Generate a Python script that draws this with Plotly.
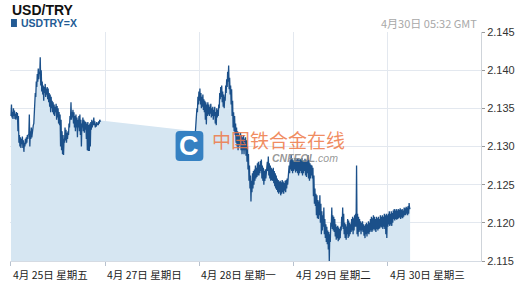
import plotly.graph_objects as go

# ---------------- data ----------------
TITLE = "USD/TRY"
SERIES_NAME = "USDTRY=X"
STAMP = "4月30日 05:32 GMT"

TICK_POS = [0, 1, 2, 3, 4]
TICK_LABELS = ["4月 25日 星期五", "4月 27日 星期日", "4月 28日 星期一",
               "4月 29日 星期二", "4月 30日 星期三"]
Y_TICKS = [2.115, 2.120, 2.125, 2.130, 2.135, 2.140, 2.145]

SEG1_START = 0.0      # trading-day position of first sample (Fri)
SEG2_START = 1.958    # trading-day position of first sample after weekend (Mon)
SAMPLE_STEP = 1 / 95  # spacing of samples in trading-day units

seg1_high = [2.1355, 2.1345, 2.1350, 2.1347, 2.1343, 2.1345, 2.1344, 2.1340, 2.1315, 2.1312,
             2.1310, 2.1313, 2.1308, 2.1305, 2.1310, 2.1312, 2.1315, 2.1316, 2.1342, 2.1320,
             2.1325, 2.1322, 2.1328, 2.1355, 2.1370, 2.1385, 2.1395, 2.1402, 2.1398, 2.1417,
             2.1400, 2.1385, 2.1380, 2.1378, 2.1382, 2.1376, 2.1378, 2.1376, 2.1370, 2.1368,
             2.1365, 2.1360, 2.1358, 2.1355, 2.1352, 2.1356, 2.1353, 2.1350, 2.1345, 2.1342,
             2.1335, 2.1320, 2.1315, 2.1310, 2.1325, 2.1322, 2.1318, 2.1320, 2.1330, 2.1340,
             2.1358, 2.1345, 2.1348, 2.1345, 2.1340, 2.1342, 2.1338, 2.1335, 2.1340, 2.1342,
             2.1335, 2.1330, 2.1338, 2.1335, 2.1333, 2.1332, 2.1330, 2.1332, 2.1328, 2.1330,
             2.1332, 2.1335, 2.1333, 2.1338, 2.1333, 2.1330, 2.1332, 2.1330, 2.1333, 2.1335,
             2.1334]
seg1_low = [2.1340, 2.1338, 2.1336, 2.1340, 2.1336, 2.1335, 2.1337, 2.1320, 2.1305, 2.1300,
            2.1298, 2.1303, 2.1298, 2.1293, 2.1300, 2.1303, 2.1305, 2.1310, 2.1315, 2.1300,
            2.1310, 2.1312, 2.1318, 2.1330, 2.1355, 2.1365, 2.1378, 2.1385, 2.1388, 2.1395,
            2.1380, 2.1372, 2.1368, 2.1360, 2.1370, 2.1365, 2.1368, 2.1362, 2.1358, 2.1352,
            2.1345, 2.1350, 2.1345, 2.1342, 2.1340, 2.1345, 2.1335, 2.1338, 2.1330, 2.1328,
            2.1300, 2.1295, 2.1290, 2.1289, 2.1305, 2.1308, 2.1305, 2.1310, 2.1315, 2.1325,
            2.1335, 2.1335, 2.1338, 2.1330, 2.1325, 2.1320, 2.1325, 2.1312, 2.1325, 2.1320,
            2.1315, 2.1300, 2.1325, 2.1320, 2.1318, 2.1322, 2.1310, 2.1295, 2.1294, 2.1294,
            2.1300, 2.1322, 2.1325, 2.1328, 2.1328, 2.1325, 2.1326, 2.1328, 2.1328, 2.1330,
            2.1333]

seg2_high = [2.1340, 2.1350, 2.1365, 2.1372, 2.1376, 2.1370, 2.1365, 2.1368, 2.1362, 2.1360,
             2.1358, 2.1355, 2.1358, 2.1355, 2.1352, 2.1356, 2.1350, 2.1352, 2.1348, 2.1352,
             2.1345, 2.1350, 2.1348, 2.1355, 2.1370, 2.1378, 2.1380, 2.1372, 2.1368, 2.1365,
             2.1380, 2.1388, 2.1398, 2.1406, 2.1390, 2.1380, 2.1375, 2.1360, 2.1345, 2.1340,
             2.1330, 2.1325, 2.1320, 2.1318, 2.1315, 2.1318, 2.1315, 2.1312, 2.1315, 2.1310,
             2.1312, 2.1308, 2.1300, 2.1290, 2.1275, 2.1262, 2.1255, 2.1265, 2.1268, 2.1270,
             2.1275, 2.1272, 2.1278, 2.1280, 2.1276, 2.1281, 2.1283, 2.1275, 2.1272, 2.1268,
             2.1270, 2.1272, 2.1280, 2.1287, 2.1278, 2.1275, 2.1272, 2.1270, 2.1272, 2.1268,
             2.1265, 2.1262, 2.1258, 2.1256, 2.1254, 2.1255, 2.1253, 2.1256, 2.1254, 2.1252,
             2.1255, 2.1256, 2.1258, 2.1265, 2.1275, 2.1282, 2.1289, 2.1284, 2.1282, 2.1280,
             2.1285, 2.1282, 2.1284, 2.1285, 2.1282, 2.1284, 2.1283, 2.1285, 2.1282, 2.1280,
             2.1284, 2.1282, 2.1280, 2.1289, 2.1282, 2.1278, 2.1276, 2.1275, 2.1272, 2.1262,
             2.1245, 2.1238, 2.1236, 2.1230, 2.1228, 2.1236, 2.1225, 2.1215, 2.1210, 2.1220,
             2.1205, 2.1198, 2.1195, 2.1190, 2.1188, 2.1185, 2.1200, 2.1220, 2.1210, 2.1208,
             2.1205, 2.1198, 2.1195, 2.1196, 2.1194, 2.1192, 2.1195, 2.1208, 2.1220, 2.1212,
             2.1200, 2.1198, 2.1195, 2.1205, 2.1203, 2.1200, 2.1198, 2.1205, 2.1208, 2.1206,
             2.1210, 2.1212, 2.1275, 2.1212, 2.1208, 2.1205, 2.1202, 2.1200, 2.1202, 2.1198,
             2.1196, 2.1198, 2.1200, 2.1198, 2.1202, 2.1200, 2.1205, 2.1208, 2.1206, 2.1210,
             2.1208, 2.1205, 2.1208, 2.1206, 2.1208, 2.1205, 2.1210, 2.1208, 2.1210, 2.1208,
             2.1212, 2.1210, 2.1212, 2.1210, 2.1212, 2.1215, 2.1212, 2.1215, 2.1213, 2.1216,
             2.1218, 2.1216, 2.1218, 2.1216, 2.1218, 2.1217, 2.1219, 2.1217, 2.1218, 2.1216,
             2.1220, 2.1219, 2.1221, 2.1220, 2.1222, 2.1226, 2.1220]
seg2_low = [2.1320, 2.1335, 2.1345, 2.1355, 2.1360, 2.1355, 2.1350, 2.1352, 2.1348, 2.1345,
            2.1335, 2.1329, 2.1340, 2.1342, 2.1340, 2.1343, 2.1338, 2.1340, 2.1335, 2.1340,
            2.1330, 2.1328, 2.1338, 2.1340, 2.1350, 2.1362, 2.1365, 2.1358, 2.1352, 2.1350,
            2.1360, 2.1370, 2.1378, 2.1385, 2.1375, 2.1368, 2.1355, 2.1340, 2.1325, 2.1320,
            2.1315, 2.1305, 2.1300, 2.1295, 2.1300, 2.1302, 2.1295, 2.1290, 2.1295, 2.1290,
            2.1295, 2.1288, 2.1280, 2.1270, 2.1255, 2.1245, 2.1228, 2.1240, 2.1245, 2.1250,
            2.1255, 2.1258, 2.1260, 2.1262, 2.1262, 2.1265, 2.1268, 2.1258, 2.1255, 2.1250,
            2.1255, 2.1258, 2.1265, 2.1268, 2.1262, 2.1258, 2.1255, 2.1256, 2.1255, 2.1252,
            2.1248, 2.1245, 2.1243, 2.1240, 2.1238, 2.1240, 2.1236, 2.1238, 2.1240, 2.1238,
            2.1242, 2.1240, 2.1245, 2.1250, 2.1260, 2.1265, 2.1270, 2.1268, 2.1265, 2.1268,
            2.1270, 2.1266, 2.1268, 2.1265, 2.1262, 2.1265, 2.1268, 2.1265, 2.1262, 2.1265,
            2.1268, 2.1262, 2.1260, 2.1265, 2.1258, 2.1255, 2.1258, 2.1262, 2.1258, 2.1235,
            2.1225, 2.1222, 2.1210, 2.1206, 2.1205, 2.1210, 2.1200, 2.1185, 2.1190, 2.1195,
            2.1185, 2.1180, 2.1175, 2.1172, 2.1165, 2.1150, 2.1175, 2.1195, 2.1192, 2.1190,
            2.1188, 2.1182, 2.1178, 2.1180, 2.1176, 2.1178, 2.1180, 2.1190, 2.1195, 2.1192,
            2.1185, 2.1180, 2.1178, 2.1185, 2.1180, 2.1182, 2.1185, 2.1188, 2.1190, 2.1185,
            2.1190, 2.1195, 2.1195, 2.1185, 2.1182, 2.1188, 2.1190, 2.1185, 2.1190, 2.1188,
            2.1183, 2.1180, 2.1185, 2.1182, 2.1186, 2.1185, 2.1188, 2.1190, 2.1188, 2.1190,
            2.1192, 2.1190, 2.1188, 2.1192, 2.1190, 2.1192, 2.1193, 2.1195, 2.1194, 2.1192,
            2.1195, 2.1192, 2.1185, 2.1180, 2.1195, 2.1198, 2.1196, 2.1198, 2.1196, 2.1200,
            2.1205, 2.1203, 2.1205, 2.1204, 2.1205, 2.1206, 2.1207, 2.1205, 2.1207, 2.1206,
            2.1208, 2.1210, 2.1210, 2.1212, 2.1210, 2.1212, 2.1218]


def interleave(start, highs, lows):
    xs, ys = [], []
    for i, (h, l) in enumerate(zip(highs, lows)):
        t = start + i * SAMPLE_STEP
        xs += [t, t + SAMPLE_STEP / 2]
        ys += [l, h]
    return xs, ys


x1, y1 = interleave(SEG1_START, seg1_high, seg1_low)
x2, y2 = interleave(SEG2_START, seg2_high, seg2_low)

# ---------------- style ----------------
LINE_COLOR = "#1b508a"
FILL_COLOR = "#d6e6f2"
GRID_COLOR = "#e3e8ef"
FONT = "Liberation Sans, Arial, Noto Sans CJK SC, sans-serif"
CJK = "Noto Sans CJK SC, Liberation Sans, sans-serif"

W, H = 525, 294
L, R, T, B = 10, 485, 32, 261  # plot area in pixels


def px(x):
    return (x - L) / (R - L)


def py(y):
    return (B - y) / (B - T)


fig = go.Figure()
fig.add_trace(go.Scatter(x=x1 + x2, y=y1 + y2, mode="lines", fill="tozeroy",
                         fillcolor=FILL_COLOR, line=dict(width=0, color=FILL_COLOR),
                         hoverinfo="skip", showlegend=False))
fig.add_trace(go.Scatter(x=x1 + [None] + x2, y=y1 + [None] + y2, mode="lines",
                         line=dict(color=LINE_COLOR, width=1.3),
                         connectgaps=False, name=SERIES_NAME, showlegend=False))

annotations = []
for p, lab in zip(TICK_POS, TICK_LABELS):
    annotations.append(dict(x=p, y=0, xref="x", yref="paper", text=lab,
                            showarrow=False, xanchor="left", yanchor="top",
                            xshift=0, yshift=-4,
                            font=dict(family=CJK, size=10.5, color="#222")))

annotations += [
    dict(x=px(10), y=py(10), xref="paper", yref="paper", text="<b>" + TITLE + "</b>",
         showarrow=False, xanchor="left", yanchor="middle",
         font=dict(family=FONT, size=14, color="#111")),
    dict(x=px(19.5), y=py(23), xref="paper", yref="paper", text="<b>" + SERIES_NAME + "</b>",
         showarrow=False, xanchor="left", yanchor="middle",
         font=dict(family=FONT, size=10.5, color="#245b94")),
    dict(x=px(483), y=py(23), xref="paper", yref="paper", text=STAMP,
         showarrow=False, xanchor="right", yanchor="middle",
         font=dict(family=CJK, size=11, color="#a8a8a8")),
    # watermark
    dict(x=px(191), y=py(146), xref="paper", yref="paper", text="<b>C</b>",
         showarrow=False, xanchor="center", yanchor="middle",
         font=dict(family=FONT, size=27, color="white")),
    dict(x=px(281), y=py(139), xref="paper", yref="paper", text="中国铁合金在线",
         showarrow=False, xanchor="center", yanchor="middle",
         font=dict(family=CJK, size=19, color="rgba(238,120,70,0.85)")),
    dict(x=px(308), y=py(158), xref="paper", yref="paper",
         text="<b><i>CNFEOL</i></b><i>.com</i>",
         showarrow=False, xanchor="center", yanchor="middle",
         font=dict(family=FONT, size=10.5, color="rgba(140,140,140,0.9)")),
]


def rounded_rect(x0, y0, x1_, y1_, r):
    # pixel coords -> paper path with rounded corners
    X0, X1, Y0, Y1 = px(x0), px(x1_), py(y0), py(y1_)
    rx, ry = r / (R - L), r / (B - T)
    return (f"M {X0+rx},{Y0} L {X1-rx},{Y0} Q {X1},{Y0} {X1},{Y0-ry} "
            f"L {X1},{Y1+ry} Q {X1},{Y1} {X1-rx},{Y1} L {X0+rx},{Y1} "
            f"Q {X0},{Y1} {X0},{Y1+ry} L {X0},{Y0-ry} Q {X0},{Y0} {X0+rx},{Y0} Z")


shapes = [
    dict(type="rect", xref="paper", yref="paper", x0=px(11), x1=px(17), y0=py(27), y1=py(19),
         fillcolor="#245b94", line=dict(width=0)),
    dict(type="path", xref="paper", yref="paper", path=rounded_rect(177, 131, 205, 161, 4),
         fillcolor="rgba(40,120,190,0.92)", line=dict(width=0)),
]

fig.update_layout(
    width=W, height=H,
    margin=dict(l=L, r=W - R, t=T, b=H - B, pad=0),
    paper_bgcolor="white", plot_bgcolor="white",
    font=dict(family=FONT, size=11, color="#333"),
    annotations=annotations, shapes=shapes,
    xaxis=dict(range=[-0.0105, (R - 11) / 95], tickvals=TICK_POS,
               ticktext=[""] * len(TICK_POS), showticklabels=False,
               ticks="outside", ticklen=4, tickcolor="#b8c2cf",
               showgrid=True, gridcolor=GRID_COLOR, gridwidth=1,
               showline=True, linecolor="#d5dbe3", linewidth=1,
               zeroline=False, fixedrange=True),
    yaxis=dict(range=[2.115, 2.145], side="right", tickvals=Y_TICKS,
               tickformat=".3f", ticks="outside", ticklen=3, tickcolor="#999",
               showgrid=True, gridcolor=GRID_COLOR, gridwidth=1,
               showline=True, linecolor="#cfd4da", linewidth=1,
               zeroline=False, tickfont=dict(size=11, color="#333"), fixedrange=True),
    showlegend=False,
)

fig.write_html("out.html", config={"displayModeBar": False})
